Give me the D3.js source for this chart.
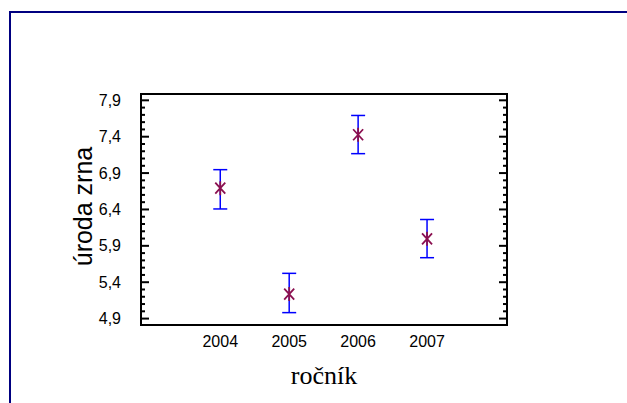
<!DOCTYPE html>
<html>
<head>
<meta charset="utf-8">
<script src="https://cdn.jsdelivr.net/npm/d3@7"></script>
<style>
  body { margin: 0; background: #fff; }
</style>
</head>
<body>
<div id="chart"></div>
<script>
// data
var years = [2004, 2005, 2006, 2007];
var means = [6.685, 5.23, 7.42, 5.99];
var lower = [6.40, 4.975, 7.16, 5.73];
var upper = [6.94, 5.515, 7.685, 6.255];
var yTicks = [4.9, 5.4, 5.9, 6.4, 6.9, 7.4, 7.9];

var width = 627, height = 403;
var frame = {left: 141, right: 507, top: 94, bottom: 325};

var svg = d3.select("#chart").append("svg")
    .attr("width", width)
    .attr("height", height);

// page border (top + left only)
svg.append("line")
    .attr("x1", 9).attr("x2", width).attr("y1", 12).attr("y2", 12)
    .attr("stroke", "#000080").attr("stroke-width", 2);
svg.append("line")
    .attr("x1", 10).attr("x2", 10).attr("y1", 12).attr("y2", height)
    .attr("stroke", "#000080").attr("stroke-width", 2);

var x = d3.scaleLinear()
    .domain([2002.85, 2008.16])
    .range([frame.left, frame.right]);

var y = d3.scaleLinear()
    .domain([4.805, 7.98])
    .range([frame.bottom, frame.top]);

//minor ticks every 0.1
var minor = d3.range(49, 80).map(function(d) { return d / 10; })
    .filter(function(v) { return yTicks.indexOf(v) < 0; });

// left axis, ticks pointing inwards
var left = svg.append("g")
    .attr("transform", "translate(" + frame.left + ",0)");
left.call(d3.axisRight(y).tickValues(minor).tickSize(4).tickFormat(""));
left.append("g").call(d3.axisRight(y).tickValues(yTicks).tickSize(8).tickFormat(""));

var right = svg.append("g")
    .attr("transform", "translate(" + frame.right + ",0)");
right.call(d3.axisLeft(y).tickValues(minor).tickSize(4).tickFormat(""));
right.append("g").call(d3.axisLeft(y).tickValues(yTicks).tickSize(8).tickFormat(""));

svg.selectAll(".domain").remove();
svg.selectAll(".tick line").attr("stroke", "#000").attr("stroke-width", 2);

// frame
svg.append("rect")
    .attr("x", frame.left).attr("y", frame.top)
    .attr("width", frame.right - frame.left)
    .attr("height", frame.bottom - frame.top)
    .attr("fill", "none")
    .attr("stroke", "#000")
    .attr("stroke-width", 2);

// y tick labels
svg.append("g").selectAll("text")
    .data(yTicks)
    .enter().append("text")
    .attr("x", frame.left - 20)
    .attr("y", function(d) { return y(d) + 6; })
    .attr("text-anchor", "end")
    .attr("font-family", "Liberation Sans, Arial, sans-serif")
    .attr("font-size", 16)
    .text(function(d) { return d.toFixed(1).replace(".", ","); });

// x tick labels
svg.append("g").selectAll("text")
    .data(years)
    .enter().append("text")
    .attr("x", function(d) { return x(d); })
    .attr("y", 347)
    .attr("text-anchor", "middle")
    .attr("font-family", "Liberation Sans, Arial, sans-serif")
    .attr("font-size", 16)
    .text(function(d) { return d; });

// axis titles
svg.append("text")
    .attr("transform", "translate(92," + ((frame.top + frame.bottom) / 2 - 3) + ") rotate(-90)")
    .attr("text-anchor", "middle")
    .attr("font-family", "Liberation Sans, Arial, sans-serif")
    .attr("font-size", 25)
    .text("úroda zrna");

svg.append("text")
    .attr("x", (frame.left + frame.right) / 2)
    .attr("y", 384)
    .attr("text-anchor", "middle")
    .attr("font-family", "Liberation Serif, Times New Roman, serif")
    .attr("font-size", 26)
    .text("ročník");

// error bars
var bars = svg.append("g").selectAll("g")
    .data(years)
    .enter().append("g")
    .attr("stroke", "#0000ff")
    .attr("stroke-width", 1.5);

bars.append("line")
    .attr("x1", function(d) { return x(d); })
    .attr("x2", function(d) { return x(d); })
    .attr("y1", function(d, i) { return y(upper[i]); })
    .attr("y2", function(d, i) { return y(lower[i]); });
bars.append("line")
    .attr("x1", function(d) { return x(d) - 7; })
    .attr("x2", function(d) { return x(d) + 7; })
    .attr("y1", function(d, i) { return y(upper[i]); })
    .attr("y2", function(d, i) { return y(upper[i]); });
bars.append("line")
    .attr("x1", function(d) { return x(d) - 7; })
    .attr("x2", function(d) { return x(d) + 7; })
    .attr("y1", function(d, i) { return y(lower[i]); })
    .attr("y2", function(d, i) { return y(lower[i]); });

// asterisk markers
svg.append("g").selectAll("path")
    .data(years)
    .enter().append("path")
    .attr("transform", function(d, i) { return "translate(" + x(d) + "," + y(means[i]) + ")"; })
    .attr("d", "M0,-7V7M-5,-5.5L5,5.5M-5,5.5L5,-5.5")
    .attr("fill", "none")
    .attr("stroke", "#8b1050")
    .attr("stroke-width", 1.8);
</script>
</body>
</html>
